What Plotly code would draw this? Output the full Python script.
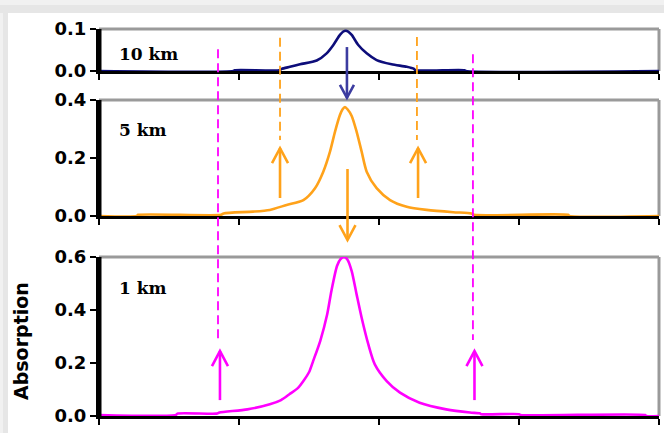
import plotly.graph_objects as go

# ---------------- data ----------------
x_ticks = [0, 1, 2, 3, 4]
panel_labels = ["10 km", "5 km", "1 km"]
y_ticks_10km = [0.0, 0.1]
y_ticks_5km = [0.0, 0.2, 0.4]
y_ticks_1km = [0.0, 0.2, 0.4, 0.6]
y_title = "Absorption"

x_10km = [0.00, 0.96, 0.97, 1.29, 1.305, 1.364, 1.436, 1.555, 1.626, 1.674, 1.721, 1.745, 1.762,
          1.780, 1.805, 1.852, 1.912, 1.983, 2.09, 2.198, 2.25, 2.26, 2.61, 2.62, 4.00]
absorb_10km = [0.0, 0.0, 0.002, 0.002, 0.005, 0.010, 0.016, 0.025, 0.042, 0.062, 0.086, 0.094, 0.096,
               0.094, 0.086, 0.062, 0.042, 0.026, 0.016, 0.010, 0.005, 0.002, 0.002, 0.0, 0.0]

x_5km = [0.00, 0.27, 0.28, 0.87, 0.89, 1.10, 1.22, 1.34, 1.46, 1.543, 1.602, 1.65, 1.686, 1.721,
         1.740, 1.757, 1.775, 1.805, 1.84, 1.876, 1.912, 1.983, 2.079, 2.198, 2.34, 2.53, 2.66, 2.68,
         3.35, 3.36, 4.00]
absorb_5km = [0.0, 0.0, 0.004, 0.004, 0.009, 0.015, 0.021, 0.038, 0.055, 0.096, 0.153, 0.222,
              0.291, 0.348, 0.368, 0.376, 0.368, 0.345, 0.291, 0.222, 0.153, 0.096, 0.055, 0.032,
              0.021, 0.013, 0.009, 0.004, 0.004, 0.0, 0.0]

x_1km = [0.00, 0.55, 0.56, 0.84, 0.86, 1.06, 1.22, 1.30, 1.36, 1.42, 1.46, 1.50, 1.53, 1.58,
         1.63, 1.66, 1.70, 1.725, 1.75, 1.775, 1.805, 1.84, 1.876, 1.924, 1.97, 2.055, 2.15,
         2.29, 2.48, 2.65, 2.72, 2.73, 3.00, 3.01, 3.90, 3.91, 4.00]
absorb_1km = [0.004, 0.004, 0.009, 0.009, 0.013, 0.025, 0.044, 0.060, 0.082, 0.105, 0.132,
              0.165, 0.208, 0.283, 0.384, 0.472, 0.566, 0.592, 0.600, 0.590, 0.547, 0.459,
              0.371, 0.270, 0.195, 0.132, 0.088, 0.050, 0.025, 0.013, 0.010, 0.007, 0.007,
              0.004, 0.004, 0.0, 0.0]

# arrows: (panel, x, value at tail, value at tip)  panel 1=10km, 2=5km, 3=1km
arrows_navy = [(1, 1.771, 0.057, -0.064)]
arrows_orange = [(2, 1.775, 0.162, -0.083), (2, 1.293, 0.062, 0.234), (2, 2.279, 0.062, 0.234)]
arrows_magenta = [(3, 0.864, 0.060, 0.245), (3, 2.682, 0.060, 0.245)]
# dashed guides: (x, panel_from, value_from, panel_to, value_to)
dashed_orange = [(1.293, 1, 0.079, 2, 0.262), (2.271, 1, 0.081, 2, 0.262)]
dashed_magenta = [(0.850, 1, 0.052, 3, 0.287), (2.671, 1, 0.040, 3, 0.287)]

# ---------------- layout geometry ----------------
W, H = 664, 433
ML, MR, MT, MB = 99, 5, 29, 17
PW, PH = W - ML - MR, H - MT - MB
XR = [0, 4]
panels = {1: (29, 71, 0.1), 2: (100, 216, 0.4), 3: (257, 416, 0.6)}  # top px, bottom px, ymax
panel_axes = {3: ("x", "y"), 2: ("x2", "y2"), 1: ("x3", "y3")}


def dom(p):
    t, b, _ = panels[p]
    return [(MT + PH - b) / PH, (MT + PH - t) / PH]


def xpx(x):
    return ML + (x - XR[0]) / (XR[1] - XR[0]) * PW


def ypx(p, v):
    t, b, ymax = panels[p]
    return b - v / ymax * (b - t)


def px2paper(px, py):
    return (px - ML) / PW, (MT + PH - py) / PH


NAVY = "#0d0d7a"
ORANGE = "#ffa21a"
MAGENTA = "#ff00ff"
GRAY = "#9a9a9a"

fig = go.Figure()
for xs, ys, p, col in [(x_1km, absorb_1km, 3, MAGENTA),
                       (x_5km, absorb_5km, 2, ORANGE),
                       (x_10km, absorb_10km, 1, NAVY)]:
    xa, ya = panel_axes[p]
    fig.add_trace(go.Scatter(x=xs, y=ys, xaxis=xa, yaxis=ya, mode="lines",
                             line=dict(color=col, width=2.6, shape="spline", smoothing=0.7),
                             showlegend=False, hoverinfo="skip"))

# left black axis line of each panel, drawn as a clipped trace along x = 0
for p in (1, 2, 3):
    xa, ya = panel_axes[p]
    ymax = panels[p][2]
    fig.add_trace(go.Scatter(x=[XR[0], XR[0]], y=[0, ymax], xaxis=xa, yaxis=ya, mode="lines",
                             line=dict(color="black", width=5), showlegend=False,
                             hoverinfo="skip"))

shapes = []
# shadow frame (top and left bands)
for (x0, y0, x1, y1, c) in [(0, 0, W, 13, "#f1f1f1"), (0, 13, 8, H, "#f1f1f1"),
                            (0, 5, W, 13, "#e6e6e6"), (3, 13, 8, H, "#e6e6e6")]:
    a = px2paper(x0, y0)
    b = px2paper(x1, y1)
    shapes.append(dict(type="rect", xref="paper", yref="paper", x0=a[0], y0=a[1], x1=b[0], y1=b[1],
                       fillcolor=c, line=dict(width=0), layer="below"))

# gray top/right frame of each panel
for p in (1, 2, 3):
    d = dom(p)
    shapes.append(dict(type="line", xref="paper", yref="paper", x0=0, x1=1, y0=d[1], y1=d[1],
                       line=dict(color=GRAY, width=3), layer="below"))
    shapes.append(dict(type="line", xref="paper", yref="paper", x0=1, x1=1, y0=d[0], y1=d[1],
                       line=dict(color=GRAY, width=3), layer="below"))

# dashed guides
for lst, col in [(dashed_orange, ORANGE), (dashed_magenta, MAGENTA)]:
    for (x, p0, v0, p1, v1) in lst:
        a = px2paper(xpx(x), ypx(p0, v0))
        b = px2paper(xpx(x), ypx(p1, v1))
        shapes.append(dict(type="line", xref="paper", yref="paper", x0=a[0], y0=a[1], x1=b[0], y1=b[1],
                           line=dict(color=col, width=1.8, dash="9px,5px"), layer="above"))


def arrow(p, x, v0, v1, col, width=2.6, hl=14, hw=7):
    tx, ty = xpx(x), ypx(p, v0)
    hx, hy = xpx(x), ypx(p, v1)
    dy = 1 if hy > ty else -1
    a = px2paper(tx, ty)
    b = px2paper(hx, hy)
    shapes.append(dict(type="line", xref="paper", yref="paper", x0=a[0], y0=a[1], x1=b[0], y1=b[1],
                       line=dict(color=col, width=width), layer="above"))
    l = px2paper(hx - hw, hy - dy * hl)
    r = px2paper(hx + hw, hy - dy * hl)
    path = f"M {l[0]},{l[1]} L {b[0]},{b[1]} L {r[0]},{r[1]}"
    shapes.append(dict(type="path", xref="paper", yref="paper", path=path,
                       line=dict(color=col, width=width), layer="above"))


for a_ in arrows_navy:
    arrow(*a_, col="#3c3ca0", hl=13, hw=7)
for a_ in arrows_orange:
    arrow(*a_, col=ORANGE, hl=15, hw=8)
for a_ in arrows_magenta:
    arrow(*a_, col=MAGENTA, hl=15, hw=8)

tickfont = dict(family="DejaVu Sans", size=18, color="black", weight="bold")
common_x = dict(range=XR, tickvals=x_ticks, showticklabels=False, ticks="outside", ticklen=6,
                tickwidth=2, tickcolor="black", showline=True, linecolor="black", linewidth=3,
                showgrid=False, zeroline=False)
common_y = dict(ticks="outside", ticklen=6, tickwidth=2, tickcolor="black", showline=True,
                linecolor="black", linewidth=3, showgrid=False, zeroline=False, tickformat=".1f",
                tickfont=tickfont)

annotations = []
label_pos = {1: 54, 2: 130, 3: 288}
for p, txt in zip((1, 2, 3), panel_labels):
    lx, ly = px2paper(117, label_pos[p])
    annotations.append(dict(text=txt, xref="paper", yref="paper", x=lx, y=ly, xanchor="left",
                            yanchor="middle", showarrow=False,
                            font=dict(family="DejaVu Serif", size=17, color="black", weight="bold")))
tx, ty = px2paper(21, 341)
annotations.append(dict(text=y_title, xref="paper", yref="paper", x=tx, y=ty, textangle=-90,
                        showarrow=False, xanchor="center", yanchor="middle",
                        font=dict(family="DejaVu Sans", size=19, color="black", weight="bold")))

fig.update_layout(
    width=W, height=H, margin=dict(l=ML, r=MR, t=MT, b=MB, pad=0),
    paper_bgcolor="white", plot_bgcolor="white", showlegend=False,
    xaxis=dict(domain=[0, 1], anchor="y", **common_x),
    xaxis2=dict(domain=[0, 1], anchor="y2", **common_x),
    xaxis3=dict(domain=[0, 1], anchor="y3", **common_x),
    yaxis=dict(domain=dom(3), anchor="x", range=[0, 0.6], tickvals=y_ticks_1km, **common_y),
    yaxis2=dict(domain=dom(2), anchor="x2", range=[0, 0.4], tickvals=y_ticks_5km, **common_y),
    yaxis3=dict(domain=dom(1), anchor="x3", range=[0, 0.1], tickvals=y_ticks_10km, **common_y),
    shapes=shapes, annotations=annotations,
)

fig.write_html("out.html", config={"displayModeBar": False},
               post_script="document.body.style.margin='0px';")
